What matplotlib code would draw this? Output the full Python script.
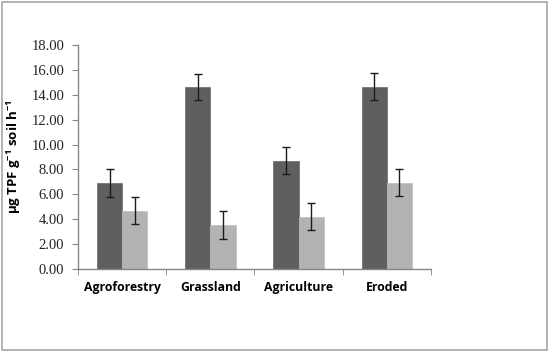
import numpy as np
import matplotlib
matplotlib.use("Agg")
import matplotlib.pyplot as plt
from matplotlib.patches import Rectangle

plt.rcParams["mathtext.fontset"] = "custom"
plt.rcParams["mathtext.rm"] = "Open Sans:bold"
plt.rcParams["mathtext.bf"] = "Open Sans:bold"

categories = ["Agroforestry", "Grassland", "Agriculture", "Eroded"]
series_a = [6.9, 14.6, 8.7, 14.65]
series_a_err = [1.1, 1.05, 1.08, 1.08]
series_b = [4.7, 3.55, 4.2, 6.95]
series_b_err = [1.1, 1.1, 1.1, 1.1]
yticks = np.arange(0, 18.01, 2)

fig = plt.figure(figsize=(5.5, 3.56), dpi=100)
ax = fig.add_axes([0.1418, 0.2444, 0.6418, 0.6292])

# Excel-style chart frame
fig.patches.append(Rectangle((2 / 550, 6 / 356), 545 / 550, 348 / 356,
                             transform=fig.transFigure, fill=False,
                             edgecolor="#a6a6a6", linewidth=1.2))

x = np.arange(len(categories))
w = 0.285
err_kw = dict(ecolor="#1a1a1a", elinewidth=1.0, capsize=3, capthick=1.0)
ax.bar(x - w / 2, series_a, w, yerr=series_a_err, color="#5f5f5f",
       edgecolor="#6a6a6a", linewidth=0.5, error_kw=err_kw)
ax.bar(x + w / 2, series_b, w, yerr=series_b_err, color="#b3b3b3",
       edgecolor="#bdbdbd", linewidth=0.5, error_kw=err_kw)

ax.set_xlim(-0.5, len(categories) - 0.5)
ax.set_ylim(0, 18)
ax.set_yticks(yticks)
ax.set_yticklabels([f"{v:.2f}" for v in yticks], family="Liberation Serif",
                   fontsize=10.5, color="#222222")

ax.set_xticks(x)
ax.set_xticklabels(categories, family="Open Sans", fontweight="bold",
                   fontsize=8.8)
ax.set_xticks(np.arange(-0.5, len(categories)), minor=True)
ax.tick_params(axis="x", which="major", length=0, pad=9)
ax.tick_params(axis="x", which="minor", length=4, color="#868686", direction="out")
ax.tick_params(axis="y", length=4, color="#868686", direction="out", pad=6)

for s in ["top", "right"]:
    ax.spines[s].set_visible(False)
for s in ["left", "bottom"]:
    ax.spines[s].set_color("#868686")
    ax.spines[s].set_linewidth(1.0)

ax.set_ylabel(r"µg TPF g$^{-1}$ soil h$^{-1}$",
              family="Open Sans", fontweight="bold", fontsize=9.5, labelpad=6)

fig.savefig("out.png", dpi=100)
